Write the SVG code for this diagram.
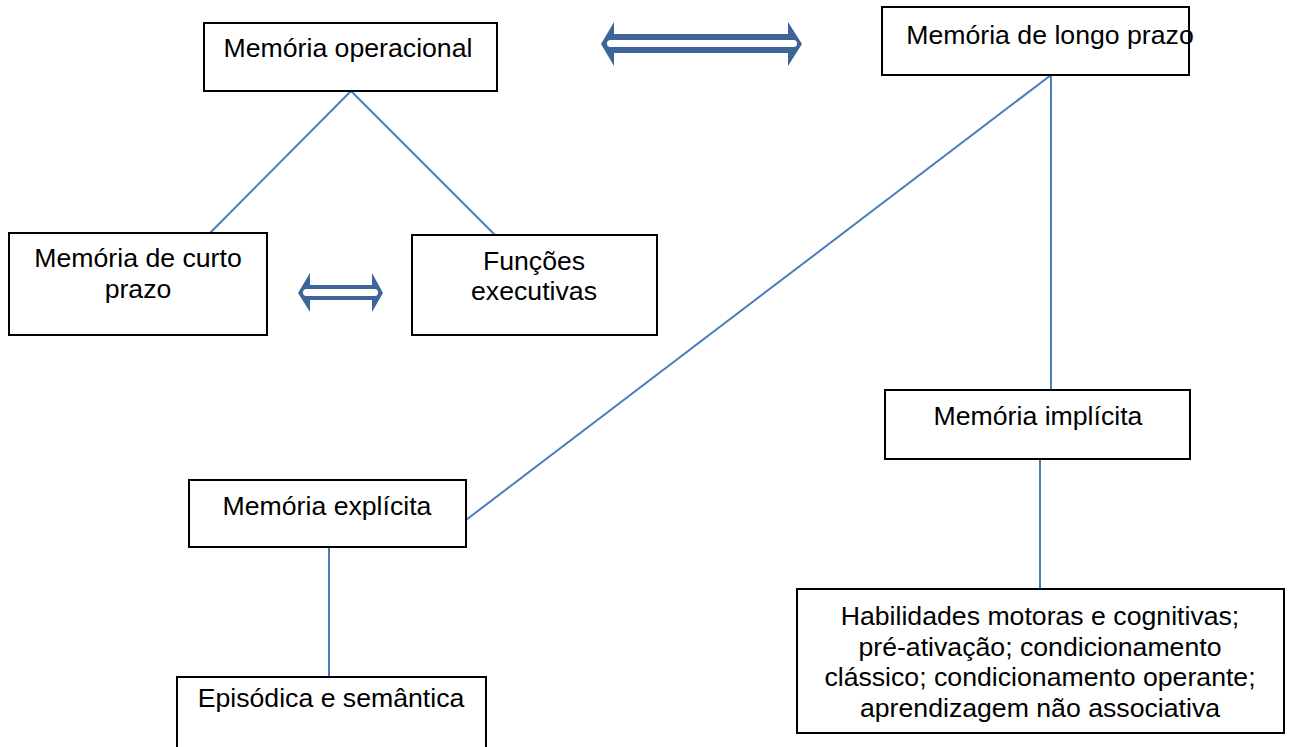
<svg xmlns="http://www.w3.org/2000/svg" width="1289" height="747" viewBox="0 0 1289 747">
  <style>
    .box { fill: #ffffff; stroke: #000000; stroke-width: 2; }
    .lbl { font-family: "Liberation Sans", Arial, sans-serif; font-size: 26.67px; fill: #000000; text-anchor: middle; }
    .link { stroke: #4a7ebb; stroke-width: 2; fill: none; }
    .dbl { fill: #3d6597; }
    .gap { fill: #ffffff; }
  </style>
  <rect width="1289" height="747" fill="#ffffff"/>

  <!-- connectors -->
  <g id="connectors">
    <line class="link" x1="351" y1="91" x2="210" y2="233"/>
    <line class="link" x1="351" y1="91" x2="495" y2="235"/>
    <line class="link" x1="1051" y1="75" x2="466" y2="520"/>
    <line class="link" x1="1051" y1="75" x2="1051" y2="390"/>
    <line class="link" x1="1040" y1="459" x2="1040" y2="589"/>
    <line class="link" x1="329" y1="547" x2="329" y2="677"/>
    <!-- two-way arrows -->
    <g id="arrow-top">
      <path class="dbl" d="M601,44 L614,22 L614,34 L788,34 L788,22 L802,44 L788,66 L788,53 L614,53 L614,66 Z"/>
      <rect class="gap" x="607" y="40" width="190" height="7" rx="3.5"/>
    </g>
    <g id="arrow-mid">
      <path class="dbl" d="M298,293 L310,273 L310,285 L372,285 L372,273 L383,293 L372,312 L372,300 L310,300 L310,312 Z"/>
      <rect class="gap" x="303" y="289" width="75" height="7" rx="3.5"/>
    </g>
  </g>

  <g id="node-operacional">
    <rect class="box" x="204" y="23" width="293" height="68"/>
    <text class="lbl" x="348" y="57">Memória operacional</text>
  </g>

  <g id="node-longo-prazo">
    <rect class="box" x="882" y="7" width="307" height="68"/>
    <text class="lbl" x="1050" y="44">Memória de longo prazo</text>
  </g>

  <g id="node-curto-prazo">
    <rect class="box" x="9" y="233" width="258" height="102"/>
    <text class="lbl" x="138" y="267">Memória de curto</text>
    <text class="lbl" x="138" y="298">prazo</text>
  </g>

  <g id="node-funcoes">
    <rect class="box" x="412" y="235" width="245" height="100"/>
    <text class="lbl" x="534" y="270">Funções</text>
    <text class="lbl" x="534" y="300">executivas</text>
  </g>

  <g id="node-implicita">
    <rect class="box" x="885" y="390" width="305" height="69"/>
    <text class="lbl" x="1038" y="425">Memória implícita</text>
  </g>

  <g id="node-explicita">
    <rect class="box" x="189" y="480" width="277" height="67"/>
    <text class="lbl" x="327" y="515">Memória explícita</text>
  </g>

  <g id="node-episodica">
    <rect class="box" x="177" y="677" width="309" height="80"/>
    <text class="lbl" x="331" y="707">Episódica e semântica</text>
  </g>

  <g id="node-habilidades">
    <rect class="box" x="797" y="589" width="487" height="144"/>
    <text class="lbl" x="1040" y="625">Habilidades motoras e cognitivas;</text>
    <text class="lbl" x="1040" y="655.7">pré-ativação; condicionamento</text>
    <text class="lbl" x="1040" y="686.4">clássico; condicionamento operante;</text>
    <text class="lbl" x="1040" y="717">aprendizagem não associativa</text>
  </g>
</svg>
